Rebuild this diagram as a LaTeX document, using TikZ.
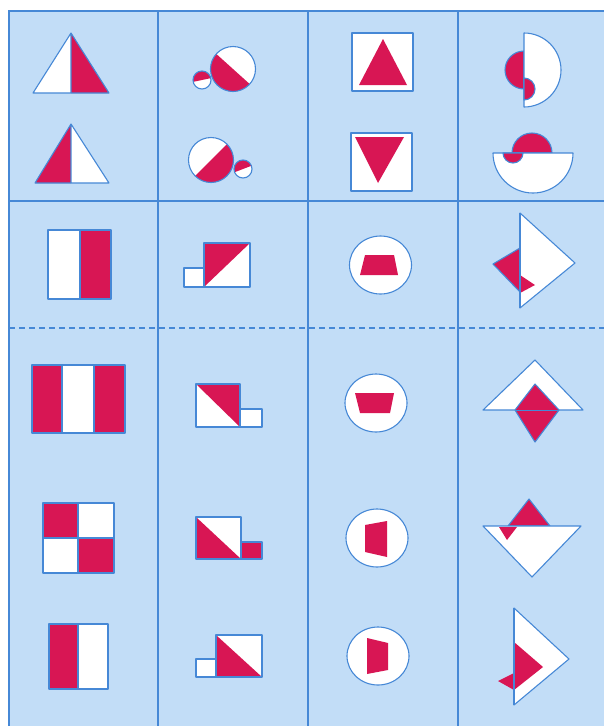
\documentclass[tikz,border=0pt]{standalone}
\usetikzlibrary{calc}
\definecolor{bgblue}{RGB}{194,221,247}
\definecolor{lineblue}{RGB}{70,136,214}
\definecolor{figred}{RGB}{216,22,84}
\tikzset{
  grid line/.style={draw=lineblue,line width=1.5pt},
  wshape/.style={fill=white,draw=lineblue,line width=1.1pt,line join=round},
  rshape/.style={fill=figred,draw=lineblue,line width=1.1pt,line join=round},
  rfill/.style={fill=figred},
  edge/.style={draw=lineblue,line width=1.1pt,line join=round}
}
\begin{document}
\begin{tikzpicture}[x=1pt,y=-1pt]
\useasboundingbox (0,0) rectangle (604,726);
\fill[white] (0,0) rectangle (604,726);
\fill[bgblue] (9,11) rectangle (604,726);
% grid
\draw[grid line] (9,726) -- (9,11) -- (604,11);
\draw[grid line] (158,11) -- (158,726);
\draw[grid line] (308,11) -- (308,726);
\draw[grid line] (458,11) -- (458,726);
\draw[grid line] (9,201) -- (604,201);
\draw[grid line,line width=1.2pt,dash pattern=on 6pt off 4pt] (9,328) -- (604,328);

% ===== column 1 =====
\fill[white] (71,33) -- (33,93) -- (71,93) -- cycle;
\fill[rfill] (71,33) -- (109,93) -- (71,93) -- cycle;
\draw[edge] (71,33) -- (33,93) -- (109,93) -- cycle (71,33) -- (71,93);
\fill[rfill] (71,124) -- (35,183) -- (71,183) -- cycle;
\fill[white] (71,124) -- (109,183) -- (71,183) -- cycle;
\draw[edge] (71,124) -- (35,183) -- (109,183) -- cycle (71,124) -- (71,183);

\fill[white] (48,230) rectangle (80,299);
\fill[rfill] (80,230) rectangle (111,299);
\draw[edge] (48,230) rectangle (111,299) (80,230) -- (80,299);

\fill[rfill] (32,365) rectangle (62,433);
\fill[white] (62,365) rectangle (94,433);
\fill[rfill] (94,365) rectangle (125,433);
\draw[edge] (32,365) rectangle (125,433) (62,365) -- (62,433) (94,365) -- (94,433);

\fill[rfill] (43,503) rectangle (78,538);
\fill[white] (78,503) rectangle (114,538);
\fill[white] (43,538) rectangle (78,573);
\fill[rfill] (78,538) rectangle (114,573);
\draw[edge] (43,503) rectangle (114,573) (78,503) -- (78,573) (43,538) -- (114,538);

\fill[rfill] (49,624) rectangle (78,689);
\fill[white] (78,624) rectangle (108,689);
\draw[edge] (49,624) rectangle (108,689) (78,624) -- (78,689);

% ===== column 2 =====
% top pair of circles
\fill[white] (233,69) circle[radius=22.5];
\fill[rfill] (233,69) ++(42:22.5) arc[start angle=42,end angle=222,radius=22.5] -- cycle;
\draw[edge] (233,69) circle[radius=22.5];
\fill[white] (202,80) circle[radius=9];
\fill[rfill] (202,80) ++(168:9) arc[start angle=168,end angle=348,radius=9] -- cycle;
\draw[edge] (202,80) circle[radius=9];
% bottom pair of circles
\fill[white] (211,160) circle[radius=22.5];
\fill[rfill] (211,160) ++(-45:22.5) arc[start angle=-45,end angle=135,radius=22.5] -- cycle;
\draw[edge] (211,160) circle[radius=22.5];
\fill[white] (243,169) circle[radius=9];
\fill[rfill] (243,169) ++(159:9) arc[start angle=159,end angle=339,radius=9] -- cycle;
\draw[edge] (243,169) circle[radius=9];

% row 2
\fill[white] (184,268) rectangle (204,287);
\draw[edge] (184,268) rectangle (204,287);
\fill[white] (204,243) rectangle (250,287);
\fill[rfill] (204,243) -- (250,243) -- (204,287) -- cycle;
\draw[edge] (204,243) rectangle (250,287);
% row 3
\fill[white] (240,409) rectangle (262,427);
\draw[edge] (240,409) rectangle (262,427);
\fill[white] (196,384) rectangle (240,427);
\fill[rfill] (196,384) -- (240,384) -- (240,427) -- cycle;
\draw[edge] (196,384) rectangle (240,427);
% row 4
\fill[rfill] (241,542) rectangle (262,559);
\draw[edge] (241,542) rectangle (262,559);
\fill[white] (196,517) rectangle (241,559);
\fill[rfill] (196,517) -- (241,559) -- (196,559) -- cycle;
\draw[edge] (196,517) rectangle (241,559);
% row 5
\fill[white] (196,659) rectangle (216,677);
\draw[edge] (196,659) rectangle (216,677);
\fill[white] (216,635) rectangle (262,677);
\fill[rfill] (216,635) -- (262,677) -- (216,677) -- cycle;
\draw[edge] (216,635) rectangle (262,677);

% ===== column 3 =====
\draw[wshape] (352,33) rectangle (413,91);
\fill[rfill] (383,39) -- (359,85) -- (407,85) -- cycle;
\draw[wshape] (351,133) rectangle (412,191);
\fill[rfill] (355,137) -- (404,137) -- (378,183) -- cycle;

\draw[wshape] (380.5,265) ellipse[x radius=31,y radius=29];
\fill[rfill] (365,255) -- (394,255) -- (398,275) -- (360,275) -- cycle;
\draw[wshape] (376,403) ellipse[x radius=31,y radius=29];
\fill[rfill] (355,393) -- (394,393) -- (390,413) -- (360,413) -- cycle;
\draw[wshape] (377,538) ellipse[x radius=31,y radius=29];
\fill[rfill] (365,525) -- (387,521) -- (387,557) -- (365,552) -- cycle;
\draw[wshape] (378,656) ellipse[x radius=31,y radius=29];
\fill[rfill] (367,638) -- (388,643) -- (388,670) -- (367,674) -- cycle;

% ===== column 4 =====
% row 1 top
\draw[rshape] (524,51) arc[start angle=-90,end angle=-270,radius=19] -- cycle;
\draw[wshape] (524,33) arc[start angle=-90,end angle=90,radius=37] -- cycle;
\draw[rshape] (524,78) arc[start angle=-90,end angle=90,radius=11] -- cycle;
% row 1 bottom
\draw[rshape] (512,153) arc[start angle=180,end angle=360,radius=20] -- cycle;
\draw[wshape] (493,153) arc[start angle=180,end angle=0,radius=40] -- cycle;
\draw[rshape] (503,153) arc[start angle=180,end angle=0,radius=10] -- cycle;
% row 2
\draw[rshape] (493,264) -- (520,248) -- (520,292) -- cycle;
\draw[wshape] (520,213) -- (520,308) -- (575,263) -- cycle;
\fill[rfill] (520,275) -- (535,285) -- (520,293) -- cycle;
\draw[edge] (520,213) -- (520,308);
% row 3
\draw[wshape] (483,410) -- (583,410) -- (535,360) -- cycle;
\draw[rshape] (535,384) -- (559,410) -- (535,442) -- (515,410) -- cycle;
\draw[edge,line width=0.6pt] (515,410) -- (559,410);
% row 4
\draw[rshape] (529,499) -- (550,526) -- (508,526) -- cycle;
\draw[wshape] (483,526) -- (581,526) -- (532,577) -- cycle;
\fill[rfill] (499,527) -- (507,540) -- (517,527) -- cycle;
% row 5
\draw[wshape] (514,608) -- (514,705) -- (569,659) -- cycle;
\fill[rfill] (514,642) -- (543,667) -- (514,690) -- cycle;
\fill[rfill] (498,681) -- (514,673) -- (514,690) -- cycle;
\draw[edge] (514,608) -- (514,705);
\end{tikzpicture}
\end{document}
